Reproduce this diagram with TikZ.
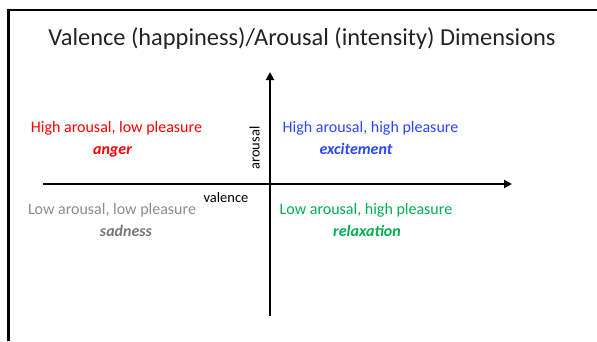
\documentclass[tikz,border=0pt]{standalone}
\usepackage{fontspec}
\setmainfont{Carlito}
\usetikzlibrary{arrows.meta}
\definecolor{qred}{RGB}{255,0,0}
\definecolor{qblue}{RGB}{45,70,255}
\definecolor{qgreen}{RGB}{0,176,80}
\definecolor{qgray}{RGB}{140,140,140}
\definecolor{qdgray}{RGB}{120,120,120}
\definecolor{qtitle}{RGB}{35,35,35}
\begin{document}
\begin{tikzpicture}[x=1pt,y=1pt,
  axis/.style={line width=2.2pt,-{Triangle[length=8pt,width=8pt]}},
  lbl/.style={inner sep=0pt,anchor=base,font=\fontsize{16}{18}\selectfont},
  word/.style={inner sep=0pt,anchor=base,font=\fontsize{16}{18}\selectfont\bfseries\itshape},
  axl/.style={inner sep=0pt,anchor=base,font=\fontsize{14.5}{17}\selectfont}]
\useasboundingbox (0,0) rectangle (597,-341);
\fill[white] (0,0) rectangle (597,-341);
% frame
\coordinate (fl) at (8.3,-341);
\coordinate (fc) at (8.3,-10);
\coordinate (fr) at (597,-10);
\draw[line width=2.6pt] (fl) -- (fc) -- (fr);
% title
\node[inner sep=0pt,anchor=base,text=qtitle,font=\fontsize{24.4}{28}\selectfont] (title) at (302,-45) {Valence (happiness)/Arousal (intensity) Dimensions};
% axes
\coordinate (hx0) at (43,-184);
\coordinate (hx1) at (512,-184);
\coordinate (vy0) at (270,-316);
\coordinate (vy1) at (270,-72);
\draw[axis] (hx0) -- (hx1);
\draw[axis] (vy0) -- (vy1);
% axis labels
\node[axl] (val) at (226,-202.7) {valence};
\node[axl,rotate=90] (aro) at (259.5,-148) {arousal};
% quadrant labels
\node[lbl,text=qred] (hl) at (116.5,-132) {High arousal, low pleasure};
\node[word,text=qred] (anger) at (112.5,-154) {anger};
\node[lbl,text=qblue] (hh) at (370.5,-132) {High arousal, high pleasure};
\node[word,text=qblue] (exc) at (356,-154) {excitement};
\node[lbl,text=qgray] (ll) at (112,-214) {Low arousal, low pleasure};
\node[word,text=qdgray] (sad) at (126,-236.5) {sadness};
\node[lbl,text=qgreen] (lh) at (366,-214) {Low arousal, high pleasure};
\node[word,text=qgreen] (rel) at (367,-236) {relaxation};
\end{tikzpicture}
\end{document}
